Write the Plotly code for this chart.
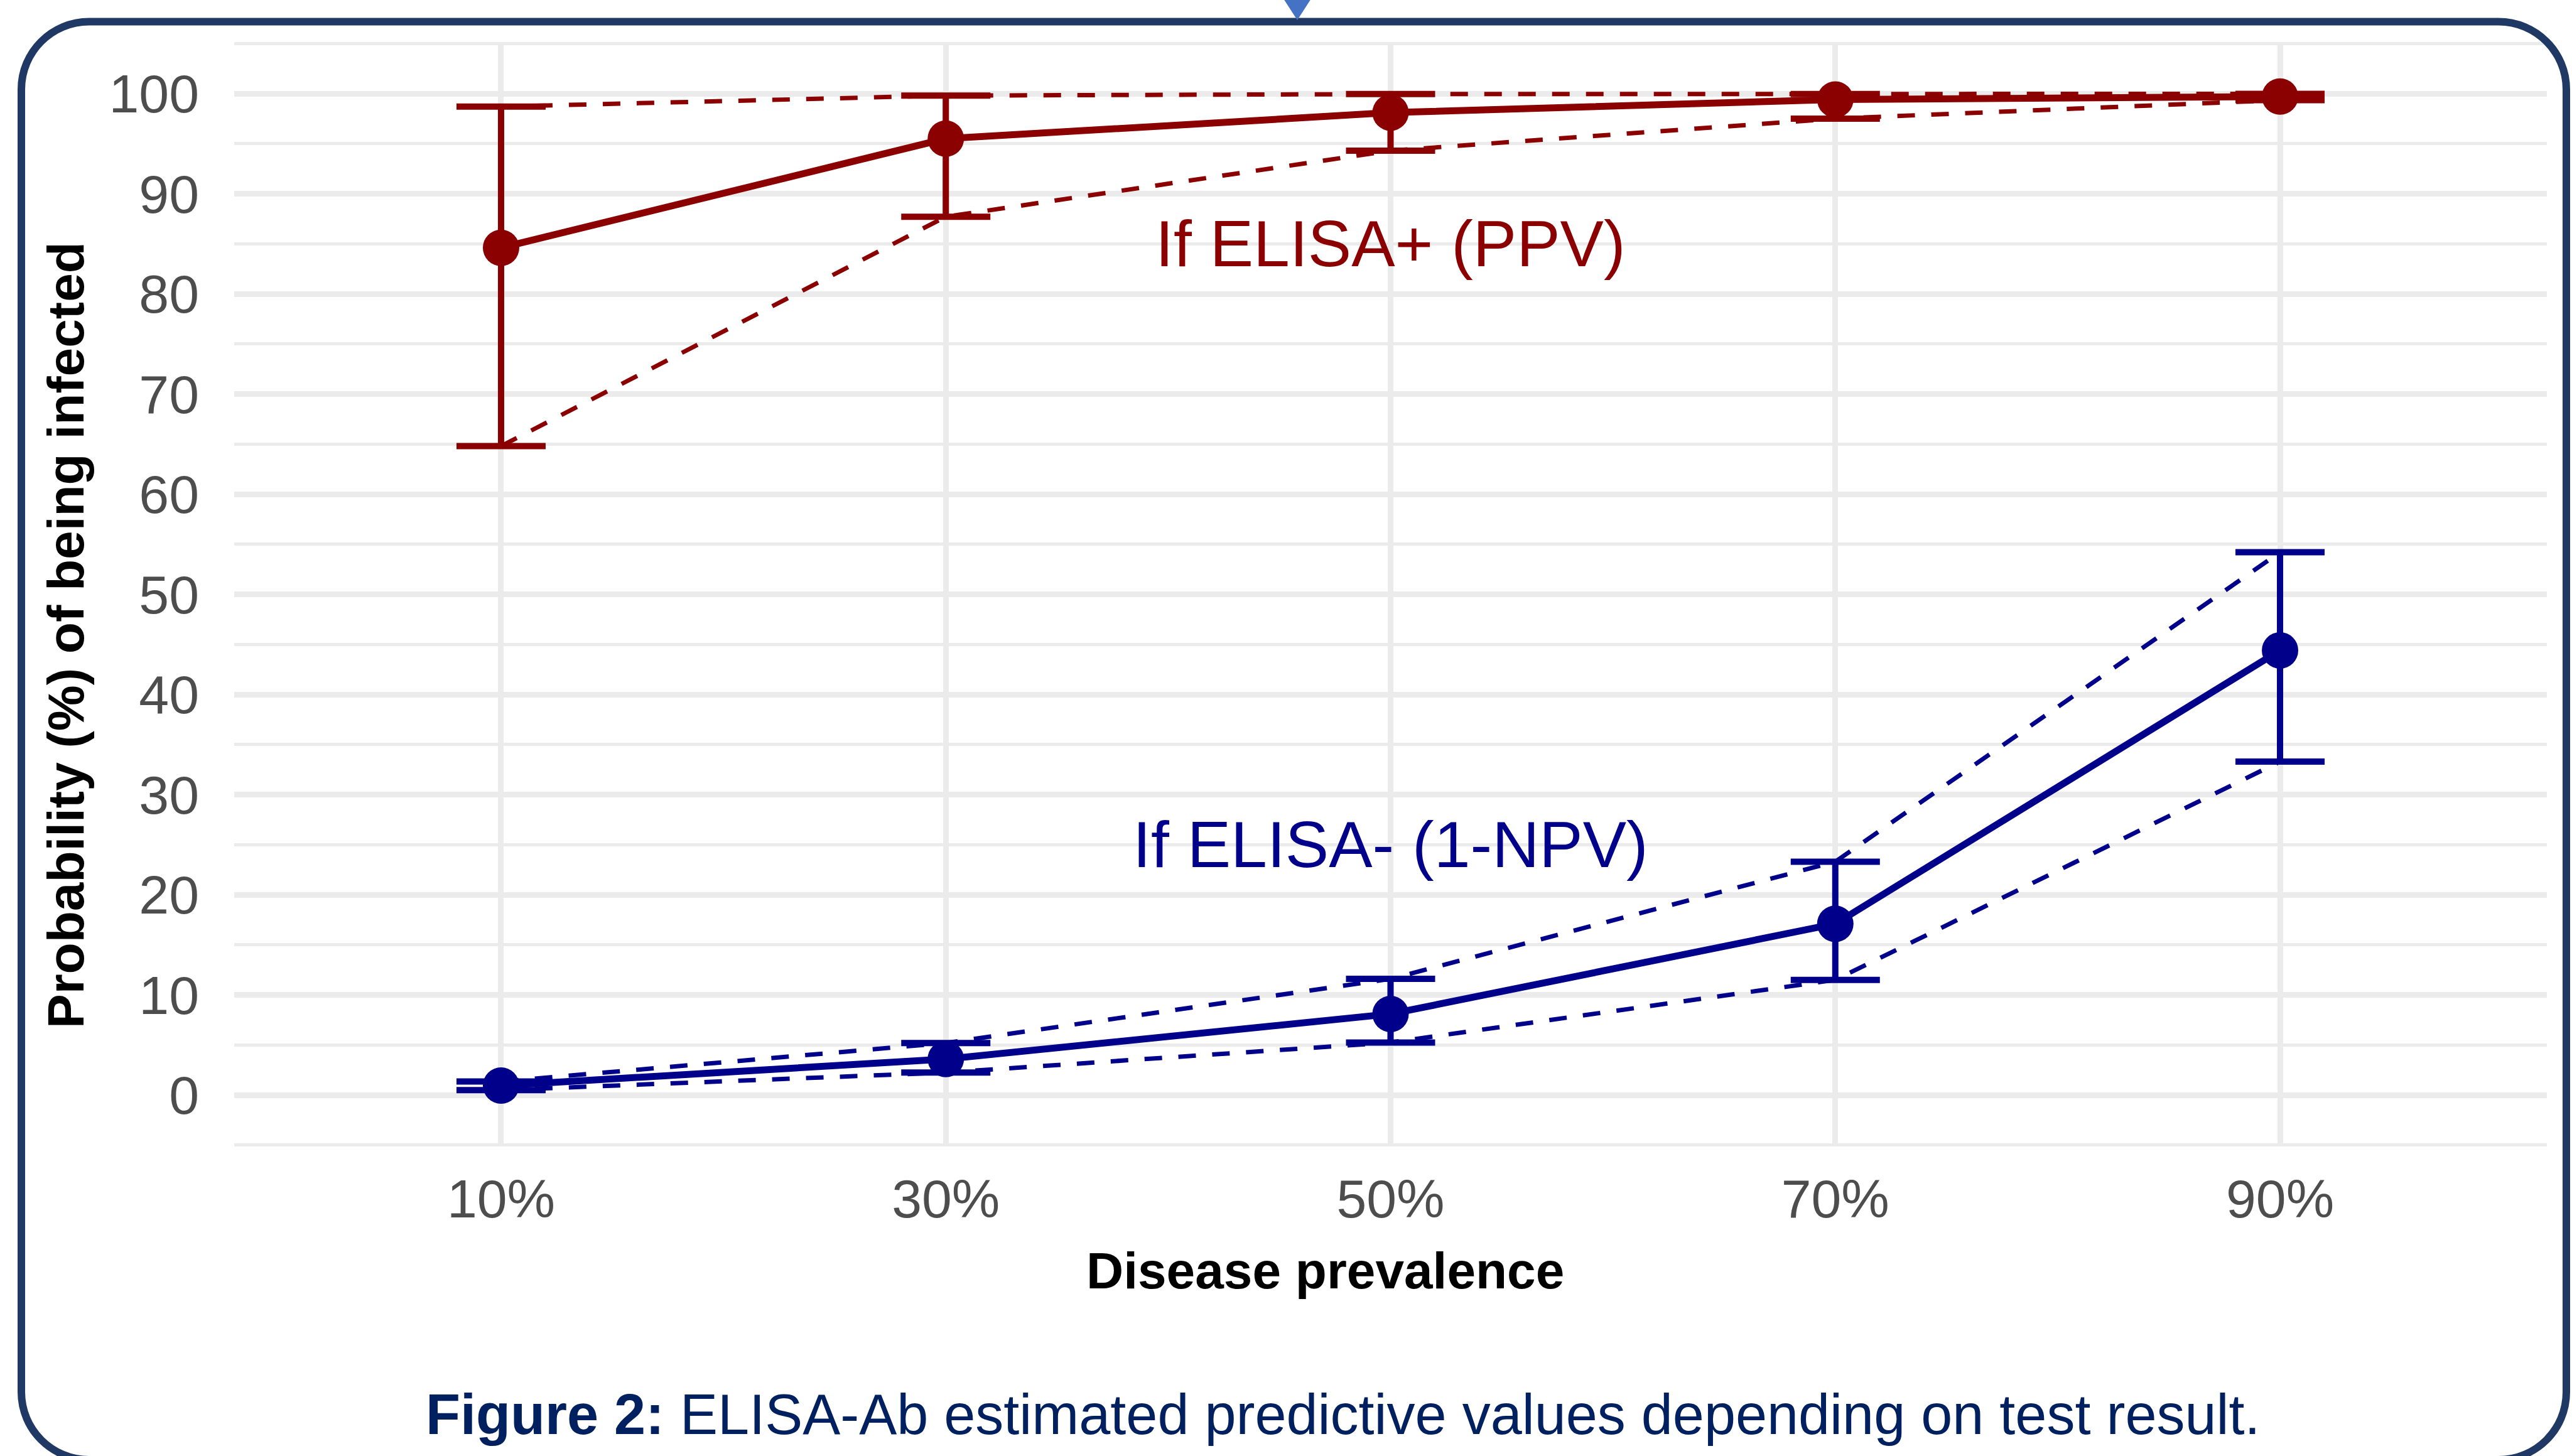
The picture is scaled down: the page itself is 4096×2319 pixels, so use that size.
import plotly.graph_objects as go

# ---------------- data ----------------
categories = ["10%", "30%", "50%", "70%", "90%"]

ppv = [84.6, 95.5, 98.1, 99.4, 99.7]
ppv_lo = [64.8, 87.7, 94.3, 97.5, 99.35]
ppv_hi = [98.7, 99.8, 99.95, 99.95, 99.97]

npv1 = [0.95, 3.6, 8.1, 17.1, 44.4]
npv1_lo = [0.5, 2.25, 5.25, 11.5, 33.3]
npv1_hi = [1.35, 5.2, 11.6, 23.3, 54.2]

y_ticks = [0, 10, 20, 30, 40, 50, 60, 70, 80, 90, 100]

label_ppv = "If ELISA+ (PPV)"
label_npv = "If ELISA- (1-NPV)"
x_title = "Disease prevalence"
y_title = "Probability (%) of being infected"
caption = "<b>Figure 2:</b> ELISA-Ab estimated predictive values depending on test result."

RED = "#8B0000"
BLUE = "#00008B"
FONT = "Liberation Sans, Arial, sans-serif"

# ---------------- geometry ----------------
FW, FH = 4096, 2319
ML, MR, MT, MB = 373, 40, 68, 494
PW = FW - ML - MR
PH = FH - MT - MB


def px_x(px):
    return (px - ML) / PW


def px_y(py):
    return (MT + PH - py) / PH


fig = go.Figure()


def add_series(y, lo, hi, color):
    dash = "28px,26px"
    fig.add_trace(go.Scatter(x=categories, y=hi, mode="lines",
                             line=dict(color=color, width=7, dash=dash),
                             hoverinfo="skip", showlegend=False))
    fig.add_trace(go.Scatter(x=categories, y=lo, mode="lines",
                             line=dict(color=color, width=7, dash=dash),
                             hoverinfo="skip", showlegend=False))
    fig.add_trace(go.Scatter(
        x=categories, y=y, mode="lines+markers",
        line=dict(color=color, width=11),
        marker=dict(color=color, size=58),
        error_y=dict(type="data", symmetric=False,
                     array=[h - v for h, v in zip(hi, y)],
                     arrayminus=[v - l for v, l in zip(y, lo)],
                     color=color, thickness=10, width=71),
        showlegend=False))


add_series(ppv, ppv_lo, ppv_hi, RED)
add_series(npv1, npv1_lo, npv1_hi, BLUE)

# ---------------- border (rounded rectangle) ----------------
bl, bt, br, bb, r = 34, 34.5, 4087, 2325, 108
k = 0.5523 * r


def P(x, y):
    return f"{px_x(x):.6f},{px_y(y):.6f}"


path = (
    f"M {P(bl + r, bt)} L {P(br - r, bt)} "
    f"C {P(br - r + k, bt)} {P(br, bt + r - k)} {P(br, bt + r)} "
    f"L {P(br, bb - r)} "
    f"C {P(br, bb - r + k)} {P(br - r + k, bb)} {P(br - r, bb)} "
    f"L {P(bl + r, bb)} "
    f"C {P(bl + r - k, bb)} {P(bl, bb - r + k)} {P(bl, bb - r)} "
    f"L {P(bl, bt + r)} "
    f"C {P(bl, bt + r - k)} {P(bl + r - k, bt)} {P(bl + r, bt)} Z"
)
shapes = [
    dict(type="path", xref="paper", yref="paper", path=path,
         line=dict(color="#203864", width=12), fillcolor="rgba(0,0,0,0)",
         layer="above"),
    dict(type="path", xref="paper", yref="paper",
         path=f"M {P(2044, -2)} L {P(2088, -2)} L {P(2066, 32)} Z",
         line=dict(width=0), fillcolor="#4472C4", layer="above"),
]

annotations = [
    dict(x="50%", y=85, xref="x", yref="y", text=label_ppv, showarrow=False,
         font=dict(family=FONT, size=104, color=RED), xanchor="center", yanchor="middle"),
    dict(x="50%", y=25, xref="x", yref="y", text=label_npv, showarrow=False,
         font=dict(family=FONT, size=104, color=BLUE), xanchor="center", yanchor="middle"),
    dict(x=px_x(2110), y=px_y(2024), xref="paper", yref="paper", text=f"<b>{x_title}</b>",
         showarrow=False, font=dict(family=FONT, size=82, color="black"),
         xanchor="center", yanchor="middle"),
    dict(x=px_x(104), y=px_y(1012), xref="paper", yref="paper", text=f"<b>{y_title}</b>",
         showarrow=False, textangle=-90, font=dict(family=FONT, size=82, color="black"),
         xanchor="center", yanchor="middle"),
    dict(x=px_x(2139), y=px_y(2253), xref="paper", yref="paper", text=caption,
         showarrow=False, font=dict(family=FONT, size=90, color="#002060"),
         xanchor="center", yanchor="middle"),
]

fig.update_layout(
    width=FW, height=FH, autosize=False,
    margin=dict(l=ML, r=MR, t=MT, b=MB, pad=0),
    paper_bgcolor="white", plot_bgcolor="white",
    shapes=shapes, annotations=annotations,
    font=dict(family=FONT),
    xaxis=dict(type="category", categoryorder="array", categoryarray=categories,
               range=[-0.6, 4.6], showgrid=True, gridcolor="#EBEBEB", gridwidth=9,
               zeroline=False, showline=False, ticks="",
               tickfont=dict(family=FONT, size=86, color="#4D4D4D"),
               ticklabelstandoff=27),
    yaxis=dict(range=[-5.07, 105.08], tickvals=y_ticks,
               showgrid=True, gridcolor="#EBEBEB", gridwidth=9,
               zeroline=False, showline=False, ticks="",
               tickfont=dict(family=FONT, size=86, color="#4D4D4D"),
               ticklabelstandoff=55,
               minor=dict(tick0=-5, dtick=10, showgrid=True,
                          gridcolor="#EBEBEB", gridwidth=5)),
)

fig.write_html("out.html", config={"displayModeBar": False},
               post_script="document.body.style.margin='0';document.body.style.overflow='hidden';")
